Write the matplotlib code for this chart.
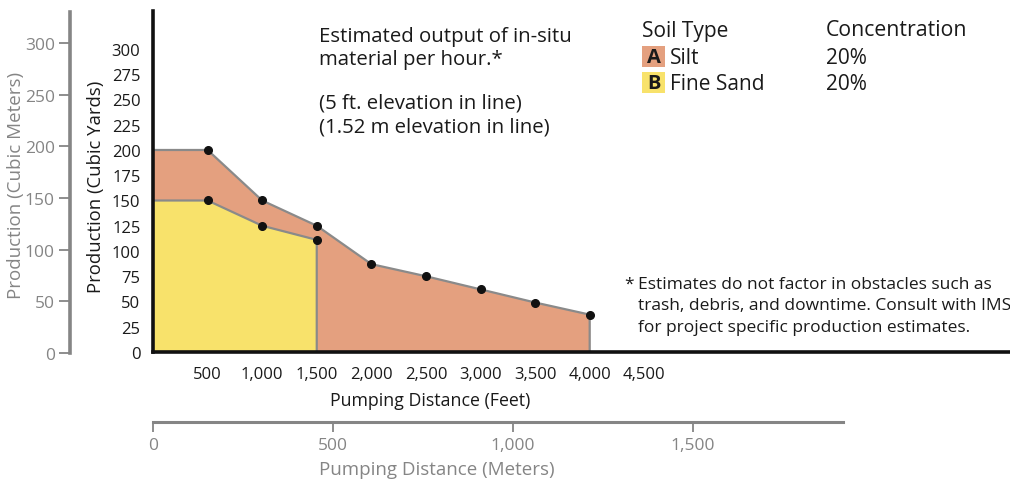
import matplotlib
matplotlib.use("Agg")
import matplotlib.pyplot as plt
from matplotlib.patches import Rectangle

plt.rcParams['font.family'] = ['Open Sans', 'DejaVu Sans']

# ---- data ----
feet = [0, 500, 1000, 1500, 2000, 2500, 3000, 3500, 4000]
silt = [200, 200, 150, 125, 87, 75, 62, 49, 37]
sand_feet = [0, 500, 1000, 1500]
sand = [150, 150, 125, 111]
yard_ticks = list(range(0, 301, 25))
feet_ticks = [500, 1000, 1500, 2000, 2500, 3000, 3500, 4000, 4500]
meter_y_ticks = [0, 50, 100, 150, 200, 250, 300]
meter_x_ticks = [0, 500, 1000, 1500]
legend_rows = [("A", "Silt", "20%"), ("B", "Fine Sand", "20%")]
note_lines = ["Estimated output of in-situ", "material per hour.*",
              "(5 ft. elevation in line)", "(1.52 m elevation in line)"]
foot_lines = ["Estimates do not factor in obstacles such as",
              "trash, debris, and downtime. Consult with IMS",
              "for project specific production estimates."]

SILT_C = "#E4A07F"
SAND_C = "#F8E26B"
EDGE_C = "#8A8A8A"
GRAY = "#858585"
TXT = "#1a1a1a"

W, H = 1010, 481
fig = plt.figure(figsize=(W / 100, H / 100), dpi=100)


def fx(x):
    return x / W


def fy(y):
    return 1 - y / H


def add_ax(left, top, right, bottom):
    return fig.add_axes([fx(left), fy(bottom), fx(right) - fx(left), fy(top) - fy(bottom)])


# ---- main axes ----
ax = add_ax(153, 12, 1010, 353)
ax.set_xlim(0, 7850)
ax.set_ylim(0, 337.6)
ax.patch.set_alpha(0)

ax.fill_between(feet, silt, 0, color=SILT_C, lw=0, zorder=1)
ax.plot(feet + [feet[-1]], silt + [0], color=EDGE_C, lw=1.6, zorder=2)
ax.fill_between(sand_feet, sand, 0, color=SAND_C, lw=0, zorder=3)
ax.plot(sand_feet + [sand_feet[-1]], sand + [0], color=EDGE_C, lw=1.6, zorder=4)
ax.plot(feet[1:], silt[1:], 'o', color="#111111", ms=5.5, zorder=5, clip_on=False)
ax.plot(sand_feet[1:], sand[1:], 'o', color="#111111", ms=5.5, zorder=5, clip_on=False)

for s in ['top', 'right']:
    ax.spines[s].set_visible(False)
for s in ['left', 'bottom']:
    ax.spines[s].set_linewidth(2.6)
    ax.spines[s].set_color("#111111")
    ax.spines[s].set_zorder(6)

ax.set_yticks(yard_ticks)
ax.set_yticklabels([str(v) for v in yard_ticks])
ax.set_xticks(feet_ticks)
ax.set_xticklabels([f"{v:,}" for v in feet_ticks])
ax.tick_params(axis='y', length=0, pad=9, labelsize=12, labelcolor=TXT)
ax.tick_params(axis='x', length=0, pad=10, labelsize=12, labelcolor=TXT)

fig.text(fx(96), fy(187), "Production (Cubic Yards)", rotation=90, ha='center', va='center',
         fontsize=13.3, color=TXT)
fig.text(fx(430), fy(401), "Pumping Distance (Feet)", ha='center', va='center',
         fontsize=12.8, color=TXT)

# ---- left meters axis ----
axm = add_ax(70, 13, 71, 354)
axm.set_ylim(0, 330)
axm.set_xticks([])
axm.patch.set_alpha(0)
for s in ['top', 'right', 'bottom']:
    axm.spines[s].set_visible(False)
axm.spines['left'].set_linewidth(2.6)
axm.spines['left'].set_color(GRAY)
axm.set_yticks(meter_y_ticks)
axm.set_yticklabels([str(v) for v in meter_y_ticks])
axm.tick_params(axis='y', length=8, width=1.3, color=GRAY, pad=3, labelsize=12.5, labelcolor=GRAY)
fig.text(fx(16), fy(185), "Production (Cubic Meters)", rotation=90, ha='center', va='center',
         fontsize=13.5, color=GRAY)

# ---- bottom meters axis ----
axb = add_ax(153, 422, 843, 423)
axb.set_xlim(0, 1917)
axb.set_yticks([])
axb.patch.set_alpha(0)
for s in ['top', 'right', 'left']:
    axb.spines[s].set_visible(False)
axb.spines['bottom'].set_linewidth(2.2)
axb.spines['bottom'].set_color(GRAY)
axb.set_xticks(meter_x_ticks)
axb.set_xticklabels([f"{v:,}" for v in meter_x_ticks])
axb.tick_params(axis='x', length=7, width=1.3, color=GRAY, pad=4, labelsize=12.5, labelcolor=GRAY)
fig.text(fx(437), fy(470), "Pumping Distance (Meters)", ha='center', va='center',
         fontsize=13.5, color=GRAY)

# ---- annotation text ----
for line, yy in zip(note_lines, [37, 60, 104, 127]):
    fig.text(fx(319), fy(yy), line, ha='left', va='center', fontsize=14.7, color=TXT)

# ---- legend ----
fig.text(fx(642), fy(31), "Soil Type", ha='left', va='center', fontsize=15, color=TXT)
fig.text(fx(826), fy(31), "Concentration", ha='left', va='center', fontsize=15.3, color=TXT)
row_y = [58, 84]
for (letter, name, conc), yy, col in zip(legend_rows, row_y, [SILT_C, SAND_C]):
    fig.patches.append(Rectangle((fx(642), fy(yy + 10)), fx(23), 21 / H, transform=fig.transFigure,
                                 facecolor=col, edgecolor='none'))
    fig.text(fx(653.5), fy(yy), letter, ha='center', va='center', fontsize=14.5, fontweight='bold',
             color=TXT)
    fig.text(fx(670), fy(yy), name, ha='left', va='center', fontsize=15, color=TXT)
    fig.text(fx(826), fy(yy), conc, ha='left', va='center', fontsize=15, color=TXT)

# ---- footnote ----
fig.text(fx(624), fy(285), "*", ha='left', va='center', fontsize=12.5, color=TXT)
for line, yy in zip(foot_lines, [285, 306, 328]):
    fig.text(fx(638), fy(yy), line, ha='left', va='center', fontsize=12.5, color=TXT)

fig.savefig("out.png", dpi=100)
